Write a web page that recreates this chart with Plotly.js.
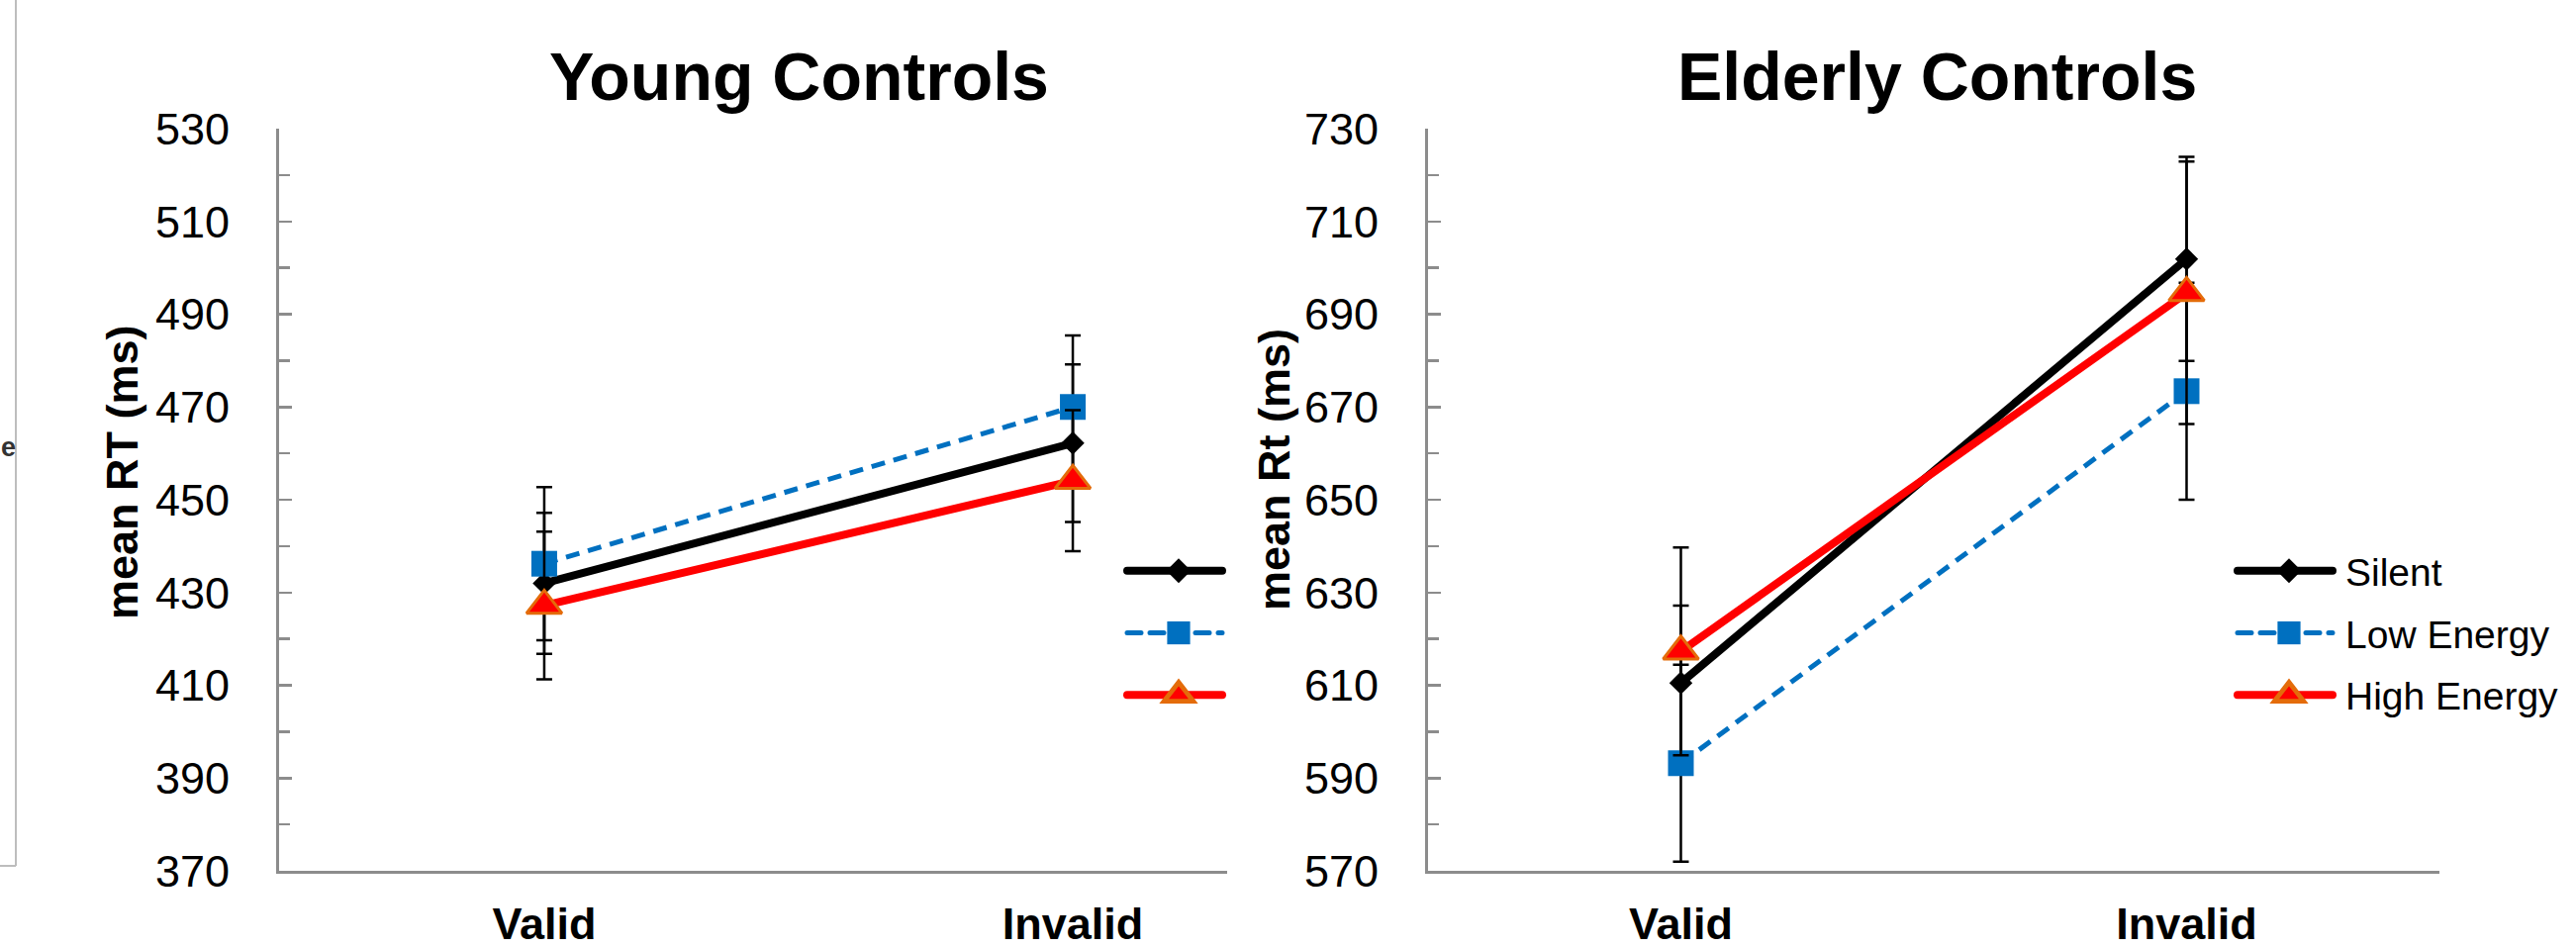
<!DOCTYPE html>
<html><head><meta charset="utf-8">
<script src="https://cdn.plot.ly/plotly-3.0.1.min.js"></script>
<style>html,body{margin:0;padding:0;background:#fff;overflow:hidden;} #chart{width:2603px;height:958px;}</style>
</head><body><div id="chart"></div>
<script>
// ---- data ----
const categories = ['Valid', 'Invalid'];
const seriesNames = ['Silent', 'Low Energy', 'High Energy'];

const youngSilent = [432.0, 462.2];
const youngSilentErr = [15.2, 17.0];
const youngLow = [436.2, 470.0];
const youngLowErr = [16.5, 15.4];
const youngHigh = [427.2, 454.1];
const youngHighErr = [15.9, 15.2];

const elderlySilent = [610.5, 701.9];
const elderlySilentErr = [16.7, 22.0];
const elderlyLow = [593.2, 673.4];
const elderlyLowErr = [21.2, 23.4];
const elderlyHigh = [617.3, 694.6];
const elderlyHighErr = [22.4, 28.3];

const youngTicks = [370, 390, 410, 430, 450, 470, 490, 510, 530];
const elderlyTicks = [570, 590, 610, 630, 650, 670, 690, 710, 730];

const panelTitles = ['Young Controls', 'Elderly Controls'];
const yTitles = ['mean RT (ms)', 'mean Rt (ms)'];

// ---- styling ----
const W = 2603, H = 958;
const FONT = 'Liberation Sans, Arial, sans-serif';
const px = v => v / W;
const py = v => (H - v) / H;

const styles = [
  {line: {color: '#000000', width: 8}, marker: {symbol: 'diamond', size: 18, color: '#000000', line: {width: 0}}},
  {line: {color: '#0070C0', width: 5, dash: '14px,9px'}, marker: {symbol: 'square', size: 26, color: '#0070C0', line: {width: 0}}},
  {line: {color: '#FF0000', width: 8}, marker: {symbol: 'triangle-up', size: 31, color: '#FF0000', line: {color: '#E46C0A', width: 3}}}
];
const legendMarkerScale = [1.2, 1.45, 1.6];

function errBar(arr) {
  return {type: 'data', array: arr, visible: true, color: '#000000', thickness: 2.5, width: 8};
}

const youngVals = [youngSilent, youngLow, youngHigh];
const youngErrs = [youngSilentErr, youngLowErr, youngHighErr];
const elderlyVals = [elderlySilent, elderlyLow, elderlyHigh];
const elderlyErrs = [elderlySilentErr, elderlyLowErr, elderlyHighErr];

const traces = [];
for (let i = 0; i < 3; i++) {
  traces.push({
    type: 'scatter', mode: 'lines+markers', x: categories, y: youngVals[i],
    xaxis: 'x', yaxis: 'y', name: '', legend: 'legend2', legendgroup: 'y' + i,
    line: styles[i].line, marker: styles[i].marker, error_y: errBar(youngErrs[i]),
    cliponaxis: false, hoverinfo: 'x+y', meta: i
  });
}
for (let i = 0; i < 3; i++) {
  traces.push({
    type: 'scatter', mode: 'lines+markers', x: categories, y: elderlyVals[i],
    xaxis: 'x2', yaxis: 'y2', name: seriesNames[i], legend: 'legend', legendgroup: 'e' + i,
    line: styles[i].line, marker: styles[i].marker, error_y: errBar(elderlyErrs[i]),
    cliponaxis: false, hoverinfo: 'x+y+name', meta: i
  });
}

const yDomain = [py(880), py(130)];
function yAxis(ticks, anchor) {
  return {
    domain: yDomain, anchor: anchor,
    range: [ticks[0], ticks[ticks.length - 1]],
    tickvals: ticks, ticktext: ticks.map(String),
    ticks: 'inside', ticklen: 13, tickwidth: 2.5, tickcolor: '#8c8c8c',
    minor: {ticks: 'inside', dtick: 10, ticklen: 11, tickwidth: 2.5, tickcolor: '#8c8c8c'},
    showline: true, linecolor: '#8c8c8c', linewidth: 3,
    showgrid: false, zeroline: false,
    tickfont: {family: FONT, size: 45, color: '#000000'},
    ticklabelstandoff: 38, fixedrange: true
  };
}
function xAxis(domain, range, anchor) {
  return {
    domain: domain, anchor: anchor, type: 'category', range: range,
    showline: true, linecolor: '#8c8c8c', linewidth: 3,
    ticks: '', showgrid: false, zeroline: false,
    tickfont: {family: FONT, size: 45, color: '#000000', weight: 'bold'},
    ticklabelstandoff: 12, fixedrange: true
  };
}

const legendCommon = {
  xanchor: 'left', yanchor: 'top', bgcolor: 'rgba(0,0,0,0)', borderwidth: 0,
  font: {family: FONT, size: 39, color: '#000000'},
  itemwidth: 104, tracegroupgap: 9, traceorder: 'grouped', itemclick: false, itemdoubleclick: false
};

const layout = {
  width: W, height: H,
  margin: {l: 0, r: 0, t: 0, b: 0},
  paper_bgcolor: '#ffffff', plot_bgcolor: 'rgba(0,0,0,0)',
  showlegend: true,
  xaxis: xAxis([px(282), px(1240)], [-0.5017, 1.292], 'y'),
  yaxis: yAxis(youngTicks, 'x'),
  xaxis2: xAxis([px(1443), px(2465)], [-0.5, 1.5], 'y2'),
  yaxis2: yAxis(elderlyTicks, 'x2'),
  legend: Object.assign({}, legendCommon, {x: px(2256), y: py(545)}),
  legend2: Object.assign({}, legendCommon, {x: px(1134), y: py(545)}),
  annotations: [
    {text: panelTitles[0], xref: 'paper', yref: 'paper', x: px(807), y: py(77), xanchor: 'center', yanchor: 'middle', showarrow: false,
     font: {family: FONT, size: 68, color: '#000000', weight: 'bold'}},
    {text: panelTitles[1], xref: 'paper', yref: 'paper', x: px(1957), y: py(77), xanchor: 'center', yanchor: 'middle', showarrow: false,
     font: {family: FONT, size: 68, color: '#000000', weight: 'bold'}},
    {text: yTitles[0], xref: 'paper', yref: 'paper', x: px(123), y: py(477), xanchor: 'center', yanchor: 'middle', textangle: -90, showarrow: false,
     font: {family: FONT, size: 45, color: '#000000', weight: 'bold'}},
    {text: yTitles[1], xref: 'paper', yref: 'paper', x: px(1287), y: py(475), xanchor: 'center', yanchor: 'middle', textangle: -90, showarrow: false,
     font: {family: FONT, size: 45, color: '#000000', weight: 'bold'}},
    {text: 'e', xref: 'paper', yref: 'paper', x: 0, y: py(452), xanchor: 'left', yanchor: 'middle', showarrow: false,
     font: {family: FONT, size: 27, color: '#333333', weight: 'bold'}, borderpad: 0}
  ],
  shapes: [
    {type: 'line', xref: 'paper', yref: 'paper', x0: px(16), x1: px(16), y0: py(875), y1: 1, line: {color: '#bdbdbd', width: 2}},
    {type: 'line', xref: 'paper', yref: 'paper', x0: 0, x1: px(16), y0: py(875), y1: py(875), line: {color: '#bdbdbd', width: 2}}
  ]
};

Plotly.newPlot('chart', traces, layout, {staticPlot: true, displayModeBar: false}).then(function (gd) {
  // Legend symbols in Plotly are size-clamped; enlarge them to match the trace styling.
  gd.querySelectorAll('.infolayer g.traces').forEach(function (g) {
    const d = g.__data__;
    const tr = d && d[0] && d[0].trace;
    if (!tr) return;
    const scale = legendMarkerScale[tr.meta] || 1;
    g.querySelectorAll('.legendpoints path.scatterpts').forEach(function (p) {
      const t = p.getAttribute('transform') || '';
      p.setAttribute('transform', t + ' scale(' + scale + ')');
    });
    g.querySelectorAll('.legendlines path').forEach(function (p) {
      p.style.strokeWidth = tr.line.width + 'px';
      p.style.strokeLinecap = 'round';
      const dAttr = p.getAttribute('d') || '';
      const m = dAttr.match(/^M([-\d.]+),([-\d.]+)h([-\d.]+)$/);
      if (m) {
        p.setAttribute('d', 'M' + m[1] + ',' + m[2] + 'h' + (parseFloat(m[3]) - 8));
      }
    });
  });
});
</script>
</body></html>
